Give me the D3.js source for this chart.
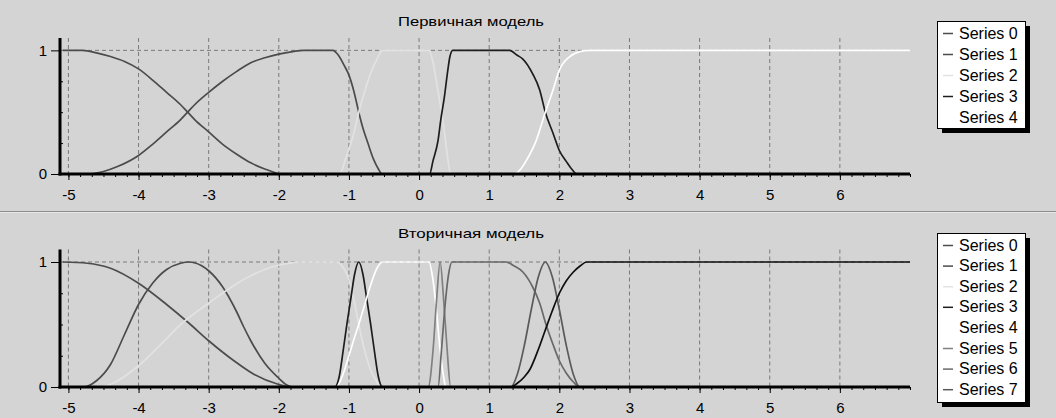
<!DOCTYPE html>
<html>
<head>
<meta charset="utf-8">
<script src="https://cdn.jsdelivr.net/npm/d3@7"></script>
<style>
  body { margin: 0; background: #d4d4d4; }
  svg { display: block; font-family: "Liberation Sans", Arial, sans-serif; }
</style>
</head>
<body>
<div id="chart"></div>
<script>
// Подписи осей
const xTicks = [-5, -4, -3, -2, -1, 0, 1, 2, 3, 4, 5, 6];
const yTicks = [0, 1];

// Цвета серий (палитра TeeChart в оттенках серого)
const seriesColors = ['#4c4c4c', '#4b4b4b', '#e2e2e2', '#1d1d1d', '#ffffff', '#808080', '#696969', '#5a5a5a', '#0f0f0f'];

// Первичная модель: точки [x, y]
const prim0 = [[-5.08,1],[-4.8,1],[-4.6,0.98],[-4.4,0.95],[-4.2,0.91],[-4,0.85],[-3.8,0.76],[-3.6,0.66],[-3.4,0.56],[-3.3,0.5],[-3.2,0.44],[-3,0.34],[-2.8,0.24],[-2.6,0.16],[-2.4,0.09],[-2.2,0.04],[-2.05,0.01],[-2,0],[7,0]];
const prim1 = [[-5.08,0],[-4.7,0],[-4.5,0.02],[-4.3,0.06],[-4,0.15],[-3.8,0.24],[-3.6,0.34],[-3.4,0.44],[-3.3,0.5],[-3.2,0.56],[-3,0.66],[-2.8,0.75],[-2.6,0.83],[-2.4,0.9],[-2.2,0.94],[-2,0.97],[-1.8,0.99],[-1.65,1],[-1.23,1],[-1.15,0.96],[-1.07,0.88],[-1,0.8],[-0.93,0.67],[-0.86,0.5],[-0.8,0.37],[-0.73,0.25],[-0.65,0.12],[-0.58,0.04],[-0.53,0],[7,0]];
const prim2 = [[-5.08,0],[-1.13,0],[-1.05,0.12],[-1,0.2],[-0.93,0.33],[-0.86,0.5],[-0.78,0.66],[-0.7,0.8],[-0.6,0.93],[-0.52,1],[0.14,1],[0.2,0.9],[0.26,0.7],[0.32,0.5],[0.37,0.3],[0.41,0.12],[0.45,0],[7,0]];
const prim3 = [[-5.08,0],[0.15,0],[0.2,0.11],[0.27,0.27],[0.31,0.44],[0.36,0.62],[0.41,0.84],[0.44,0.95],[0.48,1],[1.29,1],[1.4,0.96],[1.48,0.93],[1.62,0.81],[1.72,0.68],[1.8,0.5],[1.91,0.33],[2,0.19],[2.1,0.1],[2.19,0.03],[2.25,0],[7,0]];
const prim4 = [[-5.08,0],[1.36,0],[1.45,0.04],[1.53,0.11],[1.67,0.27],[1.8,0.5],[1.91,0.68],[2,0.84],[2.15,0.95],[2.29,0.99],[2.43,1],[7,1]];
const primNames = ['Series 0', 'Series 1', 'Series 2', 'Series 3', 'Series 4'];

// Вторичная модель
const sec0 = [[-5.08,1],[-4.73,0.99],[-4.4,0.95],[-4,0.83],[-3.6,0.66],[-3.28,0.51],[-3,0.37],[-2.64,0.21],[-2.35,0.1],[-2,0.02],[-1.83,0],[7,0]];
const sec1 = [[-5.08,0],[-4.78,0],[-4.6,0.05],[-4.4,0.18],[-4.2,0.42],[-4,0.66],[-3.8,0.83],[-3.6,0.94],[-3.4,0.99],[-3.28,1],[-3.1,0.97],[-3,0.93],[-2.8,0.8],[-2.6,0.6],[-2.5,0.48],[-2.4,0.37],[-2.2,0.19],[-2,0.07],[-1.9,0.02],[-1.8,0],[7,0]];
const sec2 = [[-5.08,0],[-4.54,0],[-4.3,0.05],[-4,0.17],[-3.7,0.33],[-3.4,0.5],[-3.2,0.59],[-3,0.67],[-2.7,0.79],[-2.4,0.89],[-2.1,0.96],[-1.8,0.995],[-1.7,1],[-1.18,1],[-1.1,0.97],[-1,0.86],[-0.93,0.7],[-0.86,0.5],[-0.78,0.3],[-0.7,0.15],[-0.6,0.04],[-0.54,0],[7,0]];
const sec3 = [[-5.08,0],[-1.2,0],[-1.14,0.08],[-1.08,0.3],[-1.03,0.5],[-0.97,0.72],[-0.92,0.9],[-0.86,1],[-0.8,0.9],[-0.75,0.72],[-0.69,0.5],[-0.64,0.3],[-0.58,0.08],[-0.52,0],[7,0]];
const sec4 = [[-5.08,0],[-1.18,0],[-1.1,0.08],[-1,0.25],[-0.93,0.38],[-0.86,0.5],[-0.78,0.65],[-0.7,0.8],[-0.6,0.95],[-0.52,1],[0.14,1],[0.2,0.85],[0.25,0.6],[0.3,0.3],[0.35,0.08],[0.38,0],[7,0]];
const sec5 = [[-5.08,0],[0.13,0],[0.2,0.3],[0.25,0.7],[0.3,1],[0.35,0.7],[0.4,0.3],[0.45,0],[7,0]];
const sec6 = [[-5.08,0],[0.27,0],[0.32,0.3],[0.37,0.65],[0.42,0.9],[0.47,1],[1.24,1],[1.35,0.97],[1.48,0.92],[1.62,0.8],[1.72,0.67],[1.81,0.5],[1.91,0.34],[2,0.21],[2.1,0.11],[2.2,0.04],[2.29,0],[7,0]];
const sec7 = [[-5.08,0],[1.31,0],[1.4,0.1],[1.5,0.33],[1.6,0.62],[1.7,0.88],[1.8,1],[1.9,0.88],[2,0.62],[2.1,0.33],[2.2,0.1],[2.29,0],[7,0]];
const sec8 = [[-5.08,0],[1.31,0],[1.4,0.03],[1.5,0.08],[1.58,0.14],[1.7,0.3],[1.79,0.44],[1.9,0.61],[2,0.75],[2.1,0.85],[2.2,0.92],[2.3,0.97],[2.39,1],[7,1]];
const secNames = ['Series 0', 'Series 1', 'Series 2', 'Series 3', 'Series 4', 'Series 5', 'Series 6', 'Series 7'];

const W = 1056, H = 418;
const svg = d3.select('#chart').append('svg')
    .attr('width', W)
    .attr('height', H);

// Фон и разделитель панелей
svg.append('rect').attr('width', W).attr('height', H).attr('fill', '#d4d4d4');
svg.append('line').attr('x1', 0).attr('x2', W).attr('y1', 211.5).attr('y2', 211.5).attr('stroke', '#8c8c8c');
svg.append('line').attr('x1', 0).attr('x2', W).attr('y1', 212.5).attr('y2', 212.5).attr('stroke', '#e8e8e8');

const x = d3.scaleLinear().domain([-5.12, 7]).range([60, 910]);

function drawPanel(cfg) {
    const y = d3.scaleLinear().domain([0, 1.1]).range([cfg.bottom, cfg.top]);
    const g = svg.append('g');

    // Сетка
    g.append('g').selectAll('line').data(xTicks).enter().append('line')
        .attr('x1', d => x(d)).attr('x2', d => x(d))
        .attr('y1', y(1.1)).attr('y2', y(0))
        .attr('stroke', '#7a7a7a').attr('stroke-dasharray', '4,3');
    g.append('line')
        .attr('x1', x.range()[0]).attr('x2', x.range()[1])
        .attr('y1', y(1)).attr('y2', y(1))
        .attr('stroke', '#7a7a7a').attr('stroke-dasharray', '4,3');

    // Кривые
    const line = d3.line()
        .x(d => x(d[0]))
        .y(d => y(d[1]))
        .curve(d3.curveMonotoneX);
    g.append('g').selectAll('path').data(cfg.series).enter().append('path')
        .attr('d', line)
        .attr('fill', 'none')
        .attr('stroke', (d, i) => seriesColors[i])
        .attr('stroke-width', 1.7);

    // Ось X
    const minor = d3.range(-5, 7.001, 1 / 6);
    g.append('g')
        .attr('transform', `translate(0,${y(0)})`)
        .call(d3.axisBottom(x).tickValues(minor).tickSize(3).tickFormat(''))
        .call(a => a.select('.domain').remove())
        .call(a => a.selectAll('line').attr('stroke', '#000'));
    const ax = g.append('g')
        .attr('transform', `translate(0,${y(0)})`)
        .call(d3.axisBottom(x).tickValues(xTicks).tickSize(6).tickFormat(d => String(d)));
    ax.select('.domain').remove();
    ax.selectAll('line').attr('stroke', '#000');
    ax.selectAll('text')
        .attr('y', cfg.labelY - y(0)).attr('dy', null)
        .attr('fill', '#000')
        .attr('font-size', 15)
        .attr('font-family', '"Liberation Sans", Arial, sans-serif');
    g.append('line')
        .attr('x1', x.range()[0] - 1.5).attr('x2', x.range()[1])
        .attr('y1', y(0)).attr('y2', y(0))
        .attr('stroke', '#000').attr('stroke-width', 3);

    // Ось Y
    const ay = g.append('g')
        .attr('transform', `translate(${x.range()[0]},0)`)
        .call(d3.axisLeft(y).tickValues(yTicks).tickSize(9).tickPadding(4).tickFormat(d3.format('d')));
    ay.select('.domain').remove();
    ay.selectAll('line').attr('stroke', '#000');
    ay.selectAll('text')
        .attr('fill', '#000')
        .attr('font-size', 15)
        .attr('font-family', '"Liberation Sans", Arial, sans-serif');
    g.append('g')
        .attr('transform', `translate(${x.range()[0]},0)`)
        .call(d3.axisRight(y).tickValues([0.25, 0.5, 0.75]).tickSize(3).tickFormat(''))
        .call(a => a.select('.domain').remove())
        .call(a => a.selectAll('line').attr('stroke', '#000'));
    g.append('line')
        .attr('x1', x.range()[0]).attr('x2', x.range()[0])
        .attr('y1', y(1.1)).attr('y2', y(0) + 1.5)
        .attr('stroke', '#000').attr('stroke-width', 3);

    // Заголовок
    g.append('text')
        .attr('x', 471).attr('y', cfg.titleY)
        .attr('text-anchor', 'middle')
        .attr('font-size', 13)
        .attr('textLength', 146)
        .attr('lengthAdjust', 'spacingAndGlyphs')
        .attr('fill', '#000')
        .text(cfg.title);

    // Легенда
    const lg = cfg.legend;
    g.append('rect')
        .attr('x', lg.x + 5).attr('y', lg.y + 5)
        .attr('width', lg.w).attr('height', lg.h)
        .attr('fill', '#000');
    g.append('rect')
        .attr('x', lg.x + 0.5).attr('y', lg.y + 0.5)
        .attr('width', lg.w).attr('height', lg.h)
        .attr('fill', '#fff').attr('stroke', '#000');
    const rows = g.append('g').selectAll('g').data(cfg.names).enter().append('g')
        .attr('transform', (d, i) => `translate(${lg.x},${lg.row0 + i * lg.step})`);
    rows.append('line')
        .attr('x1', 6).attr('x2', 16).attr('y1', 0.5).attr('y2', 0.5)
        .attr('stroke', (d, i) => seriesColors[i]).attr('stroke-width', 1.5);
    rows.append('text')
        .attr('x', 22).attr('y', 5.5)
        .attr('font-size', 16)
        .attr('fill', '#000')
        .text(d => d);
}

drawPanel({
    top: 38, bottom: 174, titleY: 26, labelY: 200,
    title: 'Первичная модель',
    series: [prim0, prim1, prim2, prim3, prim4],
    names: primNames,
    legend: { x: 937, y: 21, w: 88, h: 107, row0: 33, step: 21 }
});

drawPanel({
    top: 249.5, bottom: 387, titleY: 238, labelY: 413,
    title: 'Вторичная модель',
    series: [sec0, sec1, sec2, sec3, sec4, sec5, sec6, sec7, sec8],
    names: secNames,
    legend: { x: 937, y: 233, w: 88, h: 169, row0: 245, step: 20.6 }
});
</script>
</body>
</html>
